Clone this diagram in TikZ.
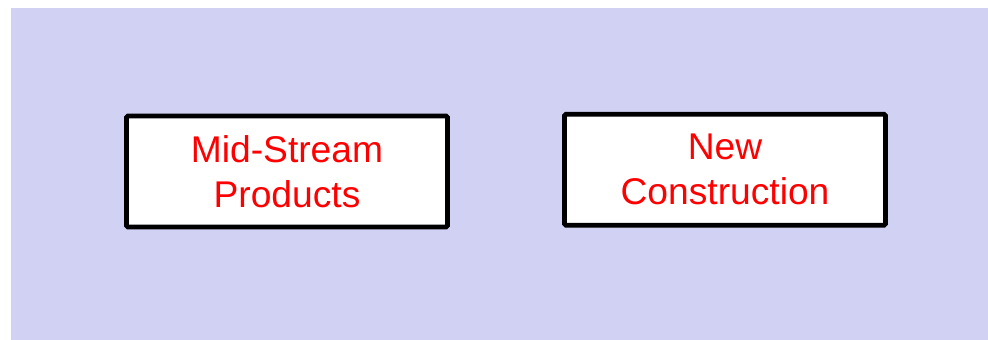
\documentclass[tikz,border=0pt]{standalone}
\usepackage{fontspec}
\setmainfont{Liberation Sans}
\definecolor{bgl}{RGB}{209,209,243}
\definecolor{txtred}{RGB}{255,0,0}
\begin{document}
\begin{tikzpicture}[x=1pt,y=-1pt,
  boxnode/.style={draw=black,line width=4.8pt,fill=white,rounded corners=1.5pt,
    minimum width=321pt,minimum height=111pt,align=center,text=txtred,
    font=\fontsize{37.2}{45}\selectfont,inner sep=0pt}]
\useasboundingbox (0,0) rectangle (988,340);
\fill[bgl] (11,8) rectangle (988,340);
\node[boxnode] (mid) at (287,171.5) {Mid-Stream\\Products};
\node[boxnode] (new) at (725,169.75) {New\\Construction};
\end{tikzpicture}
\end{document}
